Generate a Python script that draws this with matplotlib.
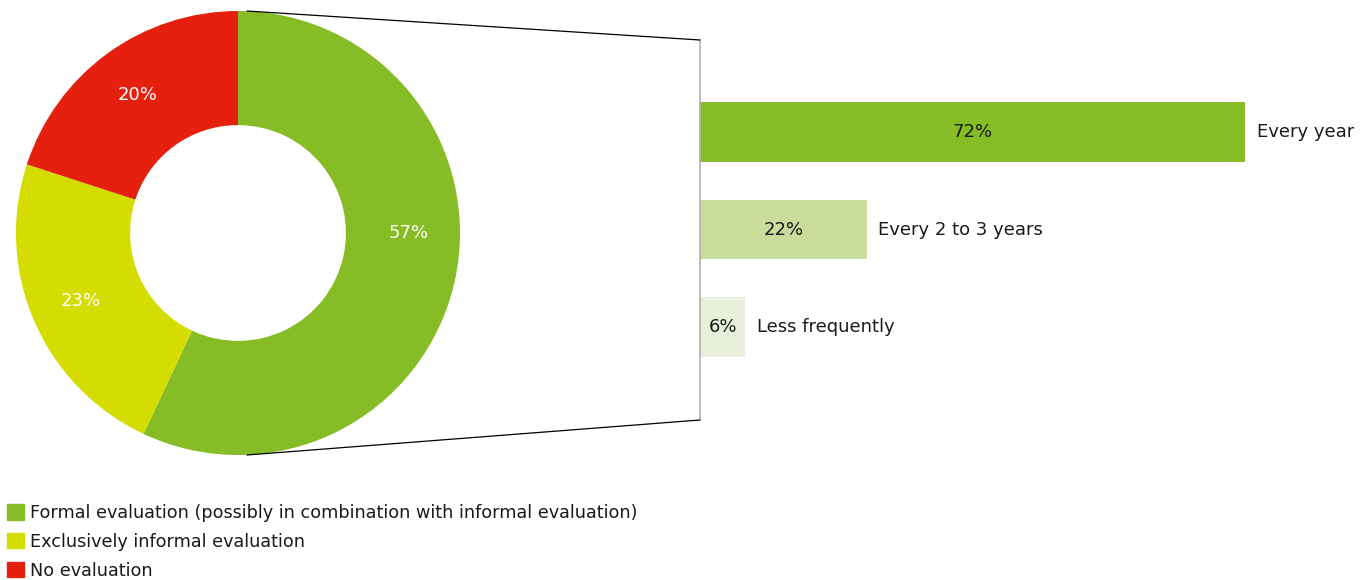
import matplotlib.pyplot as plt
from matplotlib.patches import Patch, ConnectionPatch

# evaluation type shares (donut)
eval_labels = ['Formal evaluation (possibly in combination with informal evaluation)',
               'Exclusively informal evaluation',
               'No evaluation']
eval_shares = [57, 23, 20]
eval_colors = ['#86bc25', '#d4dc00', '#e5200e']

# frequency of formal evaluation (bars)
freq_labels = ['Every year', 'Every 2 to 3 years', 'Less frequently']
freq_shares = [72, 22, 6]
freq_colors = ['#86bc25', '#c9dc9b', '#e8f0d9']

W, H = 1366, 580
plt.rcParams['font.family'] = ['DejaVu Sans']
fig = plt.figure(figsize=(W / 100, H / 100), dpi=100)


def px_axes(x0, y0, x1, y1):
    """axes from pixel box (top-left origin)"""
    return fig.add_axes([x0 / W, 1 - y1 / H, (x1 - x0) / W, (y1 - y0) / H])


# donut
ax_pie = px_axes(16, 11, 460, 455)
wedges, _, autotexts = ax_pie.pie(
    eval_shares, colors=eval_colors, startangle=90, counterclock=False,
    radius=1, wedgeprops=dict(width=0.514, linewidth=0),
    autopct='%d%%', pctdistance=0.77,
    textprops=dict(color='white', fontsize=13))
# big slice label sits on the horizontal axis in the original
autotexts[0].set_position((0.77, 0))
ax_pie.set_xlim(-1, 1)
ax_pie.set_ylim(-1, 1)
ax_pie.set_aspect('equal')

# bars
ax_bar = px_axes(700, 40, 1366, 420)
y = range(len(freq_shares))
ax_bar.barh(y, freq_shares, height=0.615, color=freq_colors)
ax_bar.set_xlim(0, 88)
ax_bar.set_ylim(2.954, -0.944)
for i, v in enumerate(freq_shares):
    ax_bar.text(v / 2, i, f'{v}%', ha='center', va='center', fontsize=13, color='#1a1a1a')
    ax_bar.text(v + 1.55, i, freq_labels[i], ha='left', va='center', fontsize=13, color='#1a1a1a')
for s in ['top', 'right', 'bottom']:
    ax_bar.spines[s].set_visible(False)
ax_bar.spines['left'].set_color('#b0b0b0')
ax_bar.spines['left'].set_linewidth(1.2)
ax_bar.set_xticks([])
ax_bar.set_yticks([])

# connector lines from donut to bar panel
for yp, yb in [(1, 1), (-1, 0)]:
    con = ConnectionPatch(xyA=(0.04, yp), coordsA=ax_pie.transData,
                          xyB=(0, yb), coordsB=ax_bar.transAxes,
                          color='black', linewidth=0.9)
    fig.add_artist(con)

# legend
handles = [Patch(color=c) for c in eval_colors]
fig.legend(handles, eval_labels, loc='upper left', bbox_to_anchor=(7 / W, 1 - 504 / H),
           frameon=False, fontsize=12.7, handlelength=0.95, handleheight=0.95,
           handletextpad=0.35, labelspacing=0.62, borderpad=0, borderaxespad=0,
           labelcolor='#1a1a1a')

fig.savefig('out.png', dpi=100)
